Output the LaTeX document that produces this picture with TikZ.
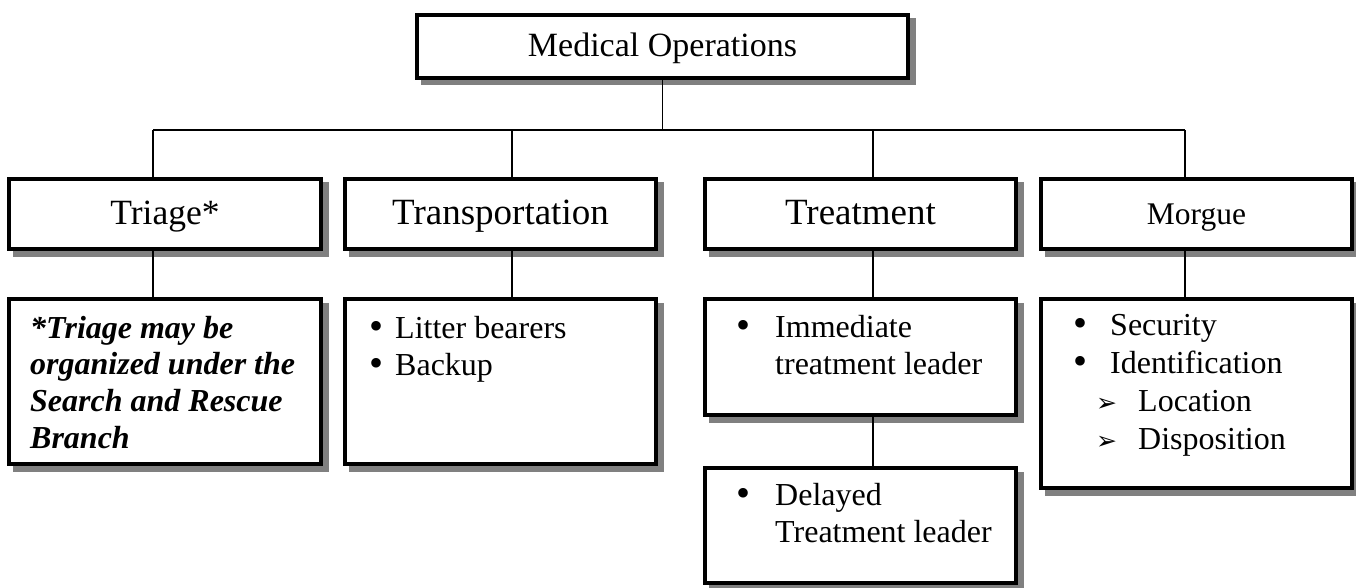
\documentclass[tikz,border=0pt]{standalone}
\usepackage{fontspec}
\setmainfont{Liberation Serif}
\newfontfamily\dingfont{DejaVu Sans}
\definecolor{shadowgray}{HTML}{808080}
\newcommand{\subarrow}{{\dingfont\fontsize{25}{25}\selectfont ➢}}
\newcommand{\dotmark}{\raisebox{-1pt}{\scalebox{1.25}{\textbullet}}}
\newcommand{\lines}[1]{\begin{tabular}[t]{@{}l@{}}#1\end{tabular}}
\begin{document}
\begin{tikzpicture}[x=1pt,y=-1pt,
  box/.style={draw=black, line width=4pt, fill=white, inner sep=0pt,
    preaction={fill=shadowgray, draw=shadowgray, line width=4pt,
      transform canvas={xshift=5.5pt,yshift=-5.5pt}}},
  title/.style={box, text height=24pt, text depth=4pt,
    font=\fontsize{37}{42}\selectfont},
  conn/.style={draw=black, line width=1.6pt},
  body/.style={inner sep=0pt, anchor=base west,
    font=\fontsize{32}{37.5}\selectfont},
  note/.style={inner sep=0pt, anchor=base west,
    font=\fontsize{32}{36.7}\selectfont\bfseries\itshape}]

\useasboundingbox (0,0) rectangle (1356,588);

% top of the chart
\node[title, minimum width=491pt, minimum height=63pt,
  font=\fontsize{34}{40}\selectfont] (med) at (662.5,46.5) {Medical Operations};

% branch heads
\node[title, minimum width=312pt, minimum height=70pt,
  font=\fontsize{35.5}{40}\selectfont] (triage) at (165,214) {Triage*};
\node[title, minimum width=311pt, minimum height=70pt] (transp) at (500.5,214) {Transportation};
\node[title, minimum width=311pt, minimum height=70pt] (treat) at (860.5,214) {Treatment};
\node[title, minimum width=311pt, minimum height=70pt,
  font=\fontsize{31.5}{36}\selectfont] (morgue) at (1196.5,214) {Morgue};

% detail boxes
\node[box, minimum width=312pt, minimum height=165pt] (tnote) at (165,381.5) {};
\node[box, minimum width=311pt, minimum height=165pt] (tlist) at (500.5,381.5) {};
\node[box, minimum width=311pt, minimum height=116pt] (immed) at (860.5,357) {};
\node[box, minimum width=311pt, minimum height=115pt] (delay) at (860.5,525.5) {};
\node[box, minimum width=311pt, minimum height=189pt] (mlist) at (1196.5,393.5) {};

% connectors
\coordinate (b1) at (153,130);
\coordinate (b2) at (512,130);
\coordinate (b3) at (873,130);
\coordinate (b4) at (1185,130);
\draw[conn] (med.south) -- (med.south |- b1);
\draw[conn] (b1) -- (b4);
\draw[conn] (b1) -- (b1 |- triage.north);
\draw[conn] (b2) -- (b2 |- transp.north);
\draw[conn] (b3) -- (b3 |- treat.north);
\draw[conn] (b4) -- (b4 |- morgue.north);
\draw[conn] (b1 |- triage.south) -- (b1 |- tnote.north);
\draw[conn] (b2 |- transp.south) -- (b2 |- tlist.north);
\draw[conn] (b3 |- treat.south) -- (b3 |- immed.north);
\draw[conn] (b3 |- immed.south) -- (b3 |- delay.north);
\draw[conn] (b4 |- morgue.south) -- (b4 |- mlist.north);

% box texts
\node[note] (notetext) at (30,338)
  {\lines{*Triage may be\\organized under the\\Search and Rescue\\Branch}};

\node[body] (tb) at (369,338)
  {\lines{\makebox[26pt][l]{\dotmark}Litter bearers\\\makebox[26pt][l]{\dotmark}Backup}};

\node[body] (ib) at (736,337)
  {\lines{\makebox[39pt][l]{\dotmark}Immediate\\\hspace*{39pt}treatment leader}};

\node[body] (db) at (736,505)
  {\lines{\makebox[39pt][l]{\dotmark}Delayed\\\hspace*{39pt}Treatment leader}};

\node[body, font=\fontsize{32}{38.3}\selectfont] (mb) at (1073,335)
  {\lines{\makebox[37pt][l]{\dotmark}Security\\
   \makebox[37pt][l]{\dotmark}Identification\\
   \hspace*{23pt}\makebox[42pt][l]{\subarrow}Location\\
   \hspace*{23pt}\makebox[42pt][l]{\subarrow}Disposition}};

\end{tikzpicture}
\end{document}
